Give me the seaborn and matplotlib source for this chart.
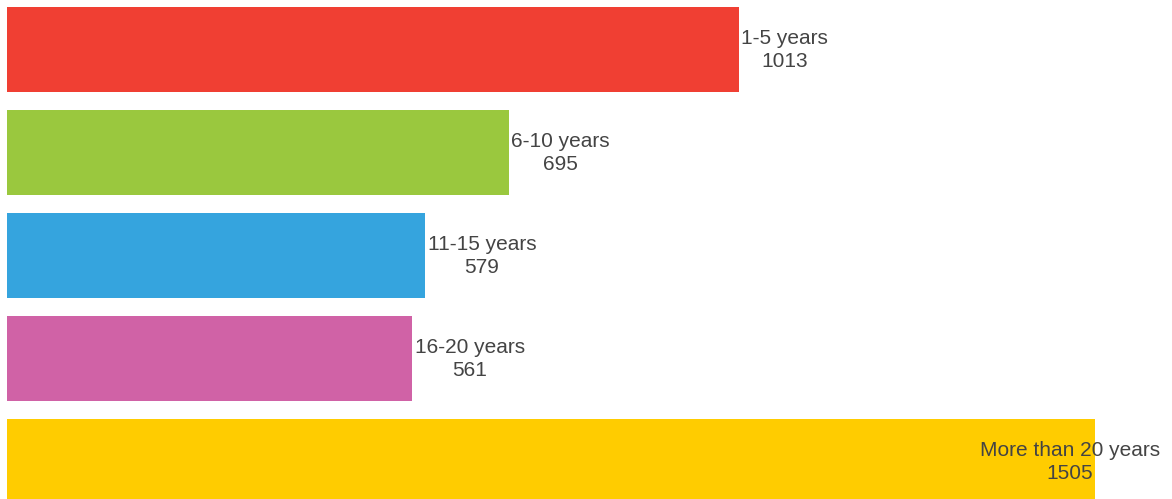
import matplotlib
matplotlib.use("Agg")
import matplotlib.pyplot as plt
import seaborn as sns

categories = ["1-5 years", "6-10 years", "11-15 years", "16-20 years", "More than 20 years"]
counts = [1013, 695, 579, 561, 1505]
colors = ["#F03F33", "#9AC83E", "#35A4DE", "#D062A6", "#FFCC00"]

sns.set_theme(style="white")
plt.rcParams["font.family"] = ["Liberation Sans", "DejaVu Sans"]

fig = plt.figure(figsize=(11.72, 4.99), dpi=100)
ax = fig.add_axes([0, 0, 1, 1])

sns.barplot(x=counts, y=categories, hue=categories, palette=colors,
            legend=False, orient="h", width=0.825, saturation=1,
            linewidth=0, ax=ax)

ax.set_xlim(-9.7, 1612)
ax.set_ylim(4.36, -0.485)
ax.axis("off")

# labels sit just past the bar end; pushed back inside if they overflow
texts = []
for i, (lab, v) in enumerate(zip(categories, counts)):
    t = ax.text(v + 3, i, f"{lab}\n{v}", ha="left", va="center",
                multialignment="center", fontsize=15, color="#444444",
                linespacing=1.3)
    texts.append(t)

fig.canvas.draw()
renderer = fig.canvas.get_renderer()
fig_w = fig.bbox.width
for t in texts:
    bb = t.get_window_extent(renderer)
    if bb.x1 > fig_w - 10:
        x_right = ax.transData.inverted().transform((fig_w - 12, 0))[0]
        t.set_x(x_right)
        t.set_ha("right")

fig.savefig("out.png", dpi=100)
